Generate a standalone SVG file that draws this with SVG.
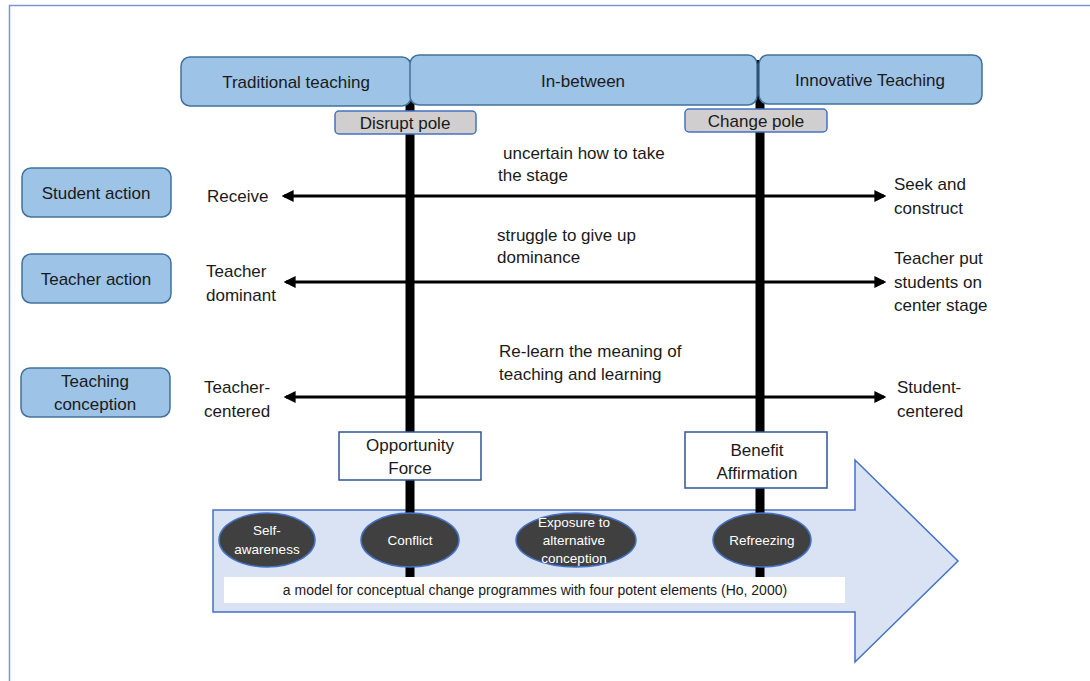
<svg xmlns="http://www.w3.org/2000/svg" width="1090" height="681" viewBox="0 0 1090 681">
<defs>
<style>
text{font-family:"Liberation Sans",Arial,sans-serif;fill:#1a1a1a}
.t17{font-size:17px}
.top{fill:#9dc3e6;stroke:#41719c;stroke-width:1.5}
.pole{fill:#d0cece;stroke:#4472c4;stroke-width:1.5}
.wbox{fill:#fff;stroke:#2f5597;stroke-width:1.5}
.ell{fill:#404040;stroke:#4472c4;stroke-width:1.5}
.et{font-size:13.5px;fill:#fff}
.vline{stroke:#000;stroke-width:9}
.harr{stroke:#000;stroke-width:3;marker-start:url(#ah);marker-end:url(#ah)}
</style>
<marker id="ah" viewBox="0 0 10 10" refX="8" refY="5" markerWidth="4" markerHeight="4" orient="auto-start-reverse" markerUnits="strokeWidth">
<path d="M0,0 L10,5 L0,10 z" fill="#000"/>
</marker>
</defs>
<rect width="1090" height="681" fill="#fff"/>
<path d="M9.5,681 V5.5 H1090" fill="none" stroke="#7f94c8" stroke-width="1.5"/>

<g id="process-arrow">
<path d="M213,510 H855 V460 L958,561 L855,662 V612 H213 Z" fill="#dae3f3" stroke="#4472c4" stroke-width="1.5"/>
</g>

<g id="connectors">
<line class="vline" x1="410" y1="60" x2="410" y2="578"/>
<line class="vline" x1="760" y1="60" x2="760" y2="578"/>
<line class="harr" x1="284" y1="196" x2="884" y2="196"/>
<line class="harr" x1="286" y1="282" x2="884" y2="282"/>
<line class="harr" x1="286" y1="397" x2="884" y2="397"/>
</g>

<g id="traditional">
<rect class="top" x="181" y="57" width="230" height="49" rx="9"/>
<text class="t17" x="296" y="88" text-anchor="middle">Traditional teaching</text>
</g>
<g id="in-between">
<rect class="top" x="410" y="55" width="347" height="50" rx="9"/>
<text class="t17" x="583" y="87" text-anchor="middle">In-between</text>
</g>
<g id="innovative">
<rect class="top" x="759" y="55" width="223" height="49" rx="9"/>
<text class="t17" x="870" y="86" text-anchor="middle">Innovative Teaching</text>
</g>
<g id="disrupt-pole">
<rect class="pole" x="335" y="111" width="141" height="23" rx="4"/>
<text class="t17" x="405" y="129" text-anchor="middle">Disrupt pole</text>
</g>
<g id="change-pole">
<rect class="pole" x="685" y="109" width="142" height="23" rx="4"/>
<text class="t17" x="756" y="127" text-anchor="middle">Change pole</text>
</g>

<g id="student-action">
<rect class="top" x="22" y="168" width="149" height="49" rx="9"/>
<text class="t17" x="96" y="199" text-anchor="middle">Student action</text>
</g>
<g id="teacher-action">
<rect class="top" x="22" y="254" width="149" height="49" rx="9"/>
<text class="t17" x="96" y="285" text-anchor="middle">Teacher action</text>
</g>
<g id="teaching-conception">
<rect class="top" x="21" y="368" width="149" height="49" rx="9"/>
<text class="t17" x="95" y="387" text-anchor="middle">Teaching</text>
<text class="t17" x="95" y="410" text-anchor="middle">conception</text>
</g>

<g id="row-labels">
<text class="t17" x="207" y="202">Receive</text>
<text class="t17" x="894" y="190">Seek and</text>
<text class="t17" x="894" y="214">construct</text>
<text class="t17" x="503" y="159">uncertain how to take</text>
<text class="t17" x="498" y="181">the stage</text>
<text class="t17" x="206" y="277">Teacher</text>
<text class="t17" x="206" y="301">dominant</text>
<text class="t17" x="497" y="241">struggle to give up</text>
<text class="t17" x="497" y="263">dominance</text>
<text class="t17" x="894" y="264">Teacher put</text>
<text class="t17" x="894" y="288">students on</text>
<text class="t17" x="894" y="311">center stage</text>
<text class="t17" x="204" y="393">Teacher-</text>
<text class="t17" x="204" y="417">centered</text>
<text class="t17" x="499" y="357">Re-learn the meaning of</text>
<text class="t17" x="499" y="380">teaching and learning</text>
<text class="t17" x="897" y="393">Student-</text>
<text class="t17" x="897" y="417">centered</text>
</g>

<g id="opportunity-force">
<rect class="wbox" x="339" y="432" width="142" height="48"/>
<text class="t17" x="410" y="451" text-anchor="middle">Opportunity</text>
<text class="t17" x="410" y="474" text-anchor="middle">Force</text>
</g>
<g id="benefit-affirmation">
<rect class="wbox" x="685" y="432" width="142" height="56"/>
<text class="t17" x="757" y="456" text-anchor="middle">Benefit</text>
<text class="t17" x="757" y="479" text-anchor="middle">Affirmation</text>
</g>

<g id="self-awareness">
<ellipse class="ell" cx="267" cy="540" rx="48" ry="27"/>
<text class="et" x="267" y="535" text-anchor="middle">Self-</text>
<text class="et" x="267" y="554" text-anchor="middle">awareness</text>
</g>
<g id="conflict">
<ellipse class="ell" cx="410" cy="540" rx="49" ry="27"/>
<text class="et" x="410" y="545" text-anchor="middle">Conflict</text>
</g>
<g id="exposure">
<ellipse class="ell" cx="576" cy="540" rx="60" ry="27"/>
<text class="et" x="574" y="527" text-anchor="middle">Exposure to</text>
<text class="et" x="574" y="545" text-anchor="middle">alternative</text>
<text class="et" x="574" y="563" text-anchor="middle">conception</text>
</g>
<g id="refreezing">
<ellipse class="ell" cx="762" cy="540" rx="49" ry="27"/>
<text class="et" x="762" y="545" text-anchor="middle">Refreezing</text>
</g>

<g id="caption">
<rect x="224" y="577" width="621" height="26" fill="#fff"/>
<text x="535" y="595" text-anchor="middle" style="font-size:14px">a model for conceptual change programmes with four potent elements (Ho, 2000)</text>
</g>
</svg>
